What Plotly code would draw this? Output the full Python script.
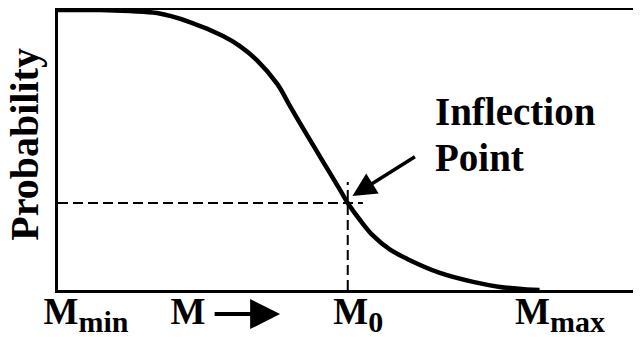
import plotly.graph_objects as go

# Curve (M in arbitrary units 0..100, probability 0..1)
m_vals = [0, 7.2, 12.3, 17.0, 22.6, 28.3, 31.2, 34.1, 37.6, 39.8, 42.7, 45.5, 48.4, 49.7,
          51.8, 54.0, 56.9, 59.9, 65.5, 71.2, 75.8, 80.4, 82.6]
p_vals = [1.0, 1.0, 0.996, 0.989, 0.957, 0.907, 0.871, 0.821, 0.736, 0.657, 0.554, 0.457, 0.357, 0.311,
          0.250, 0.195, 0.145, 0.111, 0.061, 0.029, 0.011, 0.002, 0.0]

# Inflection point
m0 = 49.7
p0 = 0.311
h_dash_end = 52.3
v_dash_top = 0.386

# Tick labels
tick_vals = [4.8, 22.3, 51.5, 86.1]
SUB = '<sub><span style="font-size:30px">%s</span></sub>'
tick_text = ["<b>M" + SUB % "min" + "</b>", "<b>M</b>",
             "<b>M" + SUB % "0" + "</b>", "<b>M" + SUB % "max" + "</b>"]

FONT = "Liberation Serif"

fig = go.Figure()
fig.add_trace(go.Scatter(x=[0, h_dash_end], y=[p0, p0], mode="lines",
                         line=dict(color="black", width=2, dash="10px,5px"), hoverinfo="skip"))
fig.add_trace(go.Scatter(x=[m0, m0], y=[0, v_dash_top], mode="lines",
                         line=dict(color="black", width=2, dash="10px,5px"), hoverinfo="skip"))
fig.add_trace(go.Scatter(x=m_vals, y=p_vals, mode="lines",
                         line=dict(color="black", width=4.5, shape="spline", smoothing=1.0),
                         hoverinfo="skip"))

# page body has an 8px margin, so the figure is sized/offset to compensate
fig.update_layout(
    template="none",
    width=633, height=329,
    margin=dict(l=50, r=0, t=2, b=47, autoexpand=False),
    paper_bgcolor="white", plot_bgcolor="white",
    showlegend=False,
    font=dict(family=FONT, color="black"),
    xaxis=dict(range=[0, 100], showgrid=False, zeroline=False, automargin=False,
               showline=True, linecolor="black", linewidth=3, mirror=True,
               tickvals=tick_vals, ticktext=tick_text, ticks="", ticklabelstandoff=-13,
               tickfont=dict(family=FONT, size=37, color="black")),
    yaxis=dict(range=[0, 1], showgrid=False, zeroline=False, automargin=False,
               showline=True, linecolor="black", linewidth=3,
               showticklabels=False, ticks=""),
    annotations=[
        dict(text="<b>Probability</b>", xref="paper", yref="paper", x=-0.0573, y=0.521,
             textangle=-90, showarrow=False, font=dict(family=FONT, size=40, color="black"),
             xanchor="center", yanchor="middle"),
        dict(text="<b>Inflection</b>", xref="paper", yref="paper", x=0.643, y=0.6375,
             showarrow=False, font=dict(family=FONT, size=39, color="black"),
             xanchor="left", yanchor="middle"),
        dict(text="<b>Point</b>", xref="paper", yref="paper", x=0.643, y=0.473,
             showarrow=False, font=dict(family=FONT, size=39, color="black"),
             xanchor="left", yanchor="middle"),
        # inflection arrow
        dict(text="", x=50.5, y=0.336, xref="x", yref="y",
             ax=64, ay=-40, showarrow=True, arrowhead=2, arrowsize=1.35,
             arrowwidth=3.5, arrowcolor="black"),
        # M -> arrow under axis
        dict(text="", xref="paper", yref="paper", x=0.381, y=-0.086,
             ax=-67, ay=0, showarrow=True, arrowhead=2, arrowsize=1.5,
             arrowwidth=4, arrowcolor="black"),
    ],
)

fig.write_html("out.html")
